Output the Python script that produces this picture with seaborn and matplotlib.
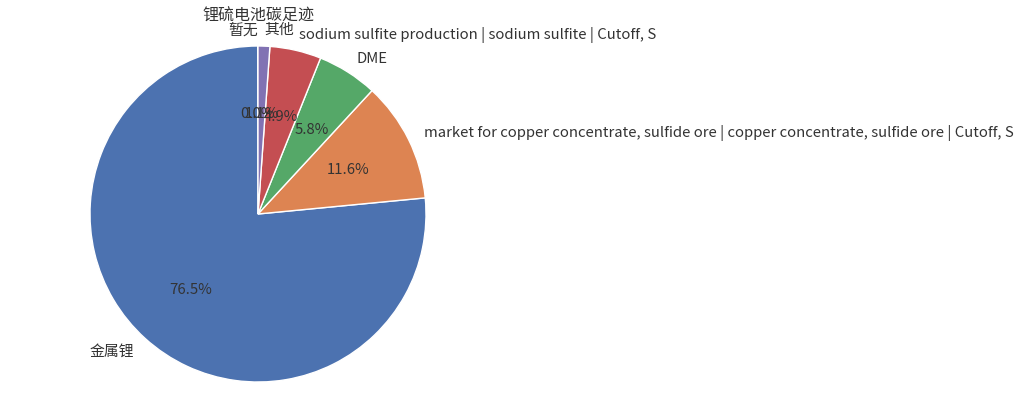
import matplotlib
matplotlib.use("Agg")
import matplotlib.pyplot as plt
import seaborn as sns

labels = ["暂无", "金属锂",
          "market for copper concentrate, sulfide ore | copper concentrate, sulfide ore | Cutoff, S",
          "DME",
          "sodium sulfite production | sodium sulfite | Cutoff, S",
          "其他"]
values = [0.03, 76.5, 11.6, 5.8, 4.94, 1.13]
title = "锂硫电池碳足迹"

sns.set_theme(style="white")
plt.rcParams['font.family'] = ['Noto Sans CJK SC', 'DejaVu Sans']

pal = sns.color_palette("deep")
colors = [pal[5], pal[0], pal[1], pal[2], pal[3], pal[4]]

W, H = 1028, 410
fig = plt.figure(figsize=(W / 100, H / 100), dpi=100)
R = 168
cx, cy = 258, 215
side = 2.5 * R
ax = fig.add_axes([(cx - side / 2) / W, ((H - cy) - side / 2) / H, side / W, side / H])
ax.pie(values, labels=labels, colors=colors, autopct="%1.1f%%", startangle=90,
       counterclock=True, wedgeprops=dict(edgecolor="white", linewidth=1),
       textprops=dict(fontsize=10.7, color="#333333"))
ax.set_aspect("equal")
fig.text(cx / W, 1 - 16 / H, title, ha="center", va="center", fontsize=11.5,
         color="#333333")
fig.savefig("out.png", dpi=100)
